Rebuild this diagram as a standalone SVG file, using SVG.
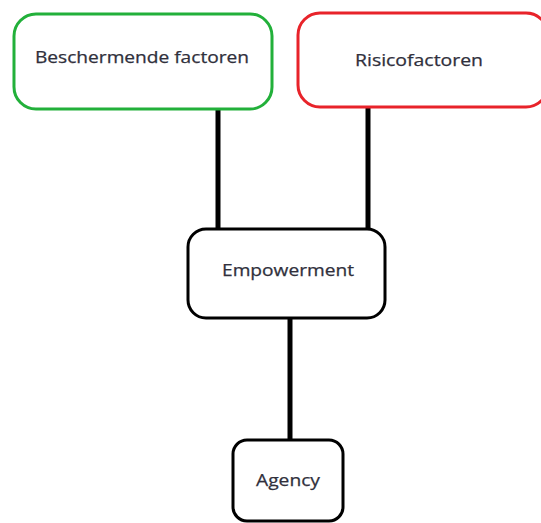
<svg xmlns="http://www.w3.org/2000/svg" width="541" height="523" viewBox="0 0 541 523">
<style>
.box{fill:#fff;stroke-width:3}
.lbl{font-family:"Open Sans","Liberation Sans",sans-serif;font-size:16px;fill:#30303c;text-anchor:middle;stroke:#30303c;stroke-width:0.25}
.con{stroke:#000;stroke-width:5;fill:none}
</style>
<rect width="541" height="523" fill="#fff"/>
<g id="connectors">
<line class="con" x1="218" y1="110" x2="218" y2="230"/>
<line class="con" x1="368" y1="107" x2="368" y2="230"/>
<line class="con" x1="290" y1="318" x2="290" y2="441"/>
</g>
<g id="beschermende">
<rect class="box" x="14" y="14" width="258" height="95" rx="22" ry="22" stroke="#22b03a"/>
<text class="lbl" x="142" y="63" textLength="214" lengthAdjust="spacingAndGlyphs">Beschermende factoren</text>
</g>
<g id="risico">
<rect class="box" x="298" y="13" width="250" height="94" rx="22" ry="22" stroke="#e8232a"/>
<text class="lbl" x="419" y="66" textLength="128" lengthAdjust="spacingAndGlyphs">Risicofactoren</text>
</g>
<g id="empowerment">
<rect class="box" x="188" y="229" width="197" height="89" rx="18" ry="18" stroke="#000"/>
<text class="lbl" x="288" y="276" textLength="132" lengthAdjust="spacingAndGlyphs">Empowerment</text>
</g>
<g id="agency">
<rect class="box" x="233" y="440" width="110" height="81" rx="14" ry="14" stroke="#000"/>
<text class="lbl" x="288" y="486" textLength="64" lengthAdjust="spacingAndGlyphs">Agency</text>
</g>
</svg>
